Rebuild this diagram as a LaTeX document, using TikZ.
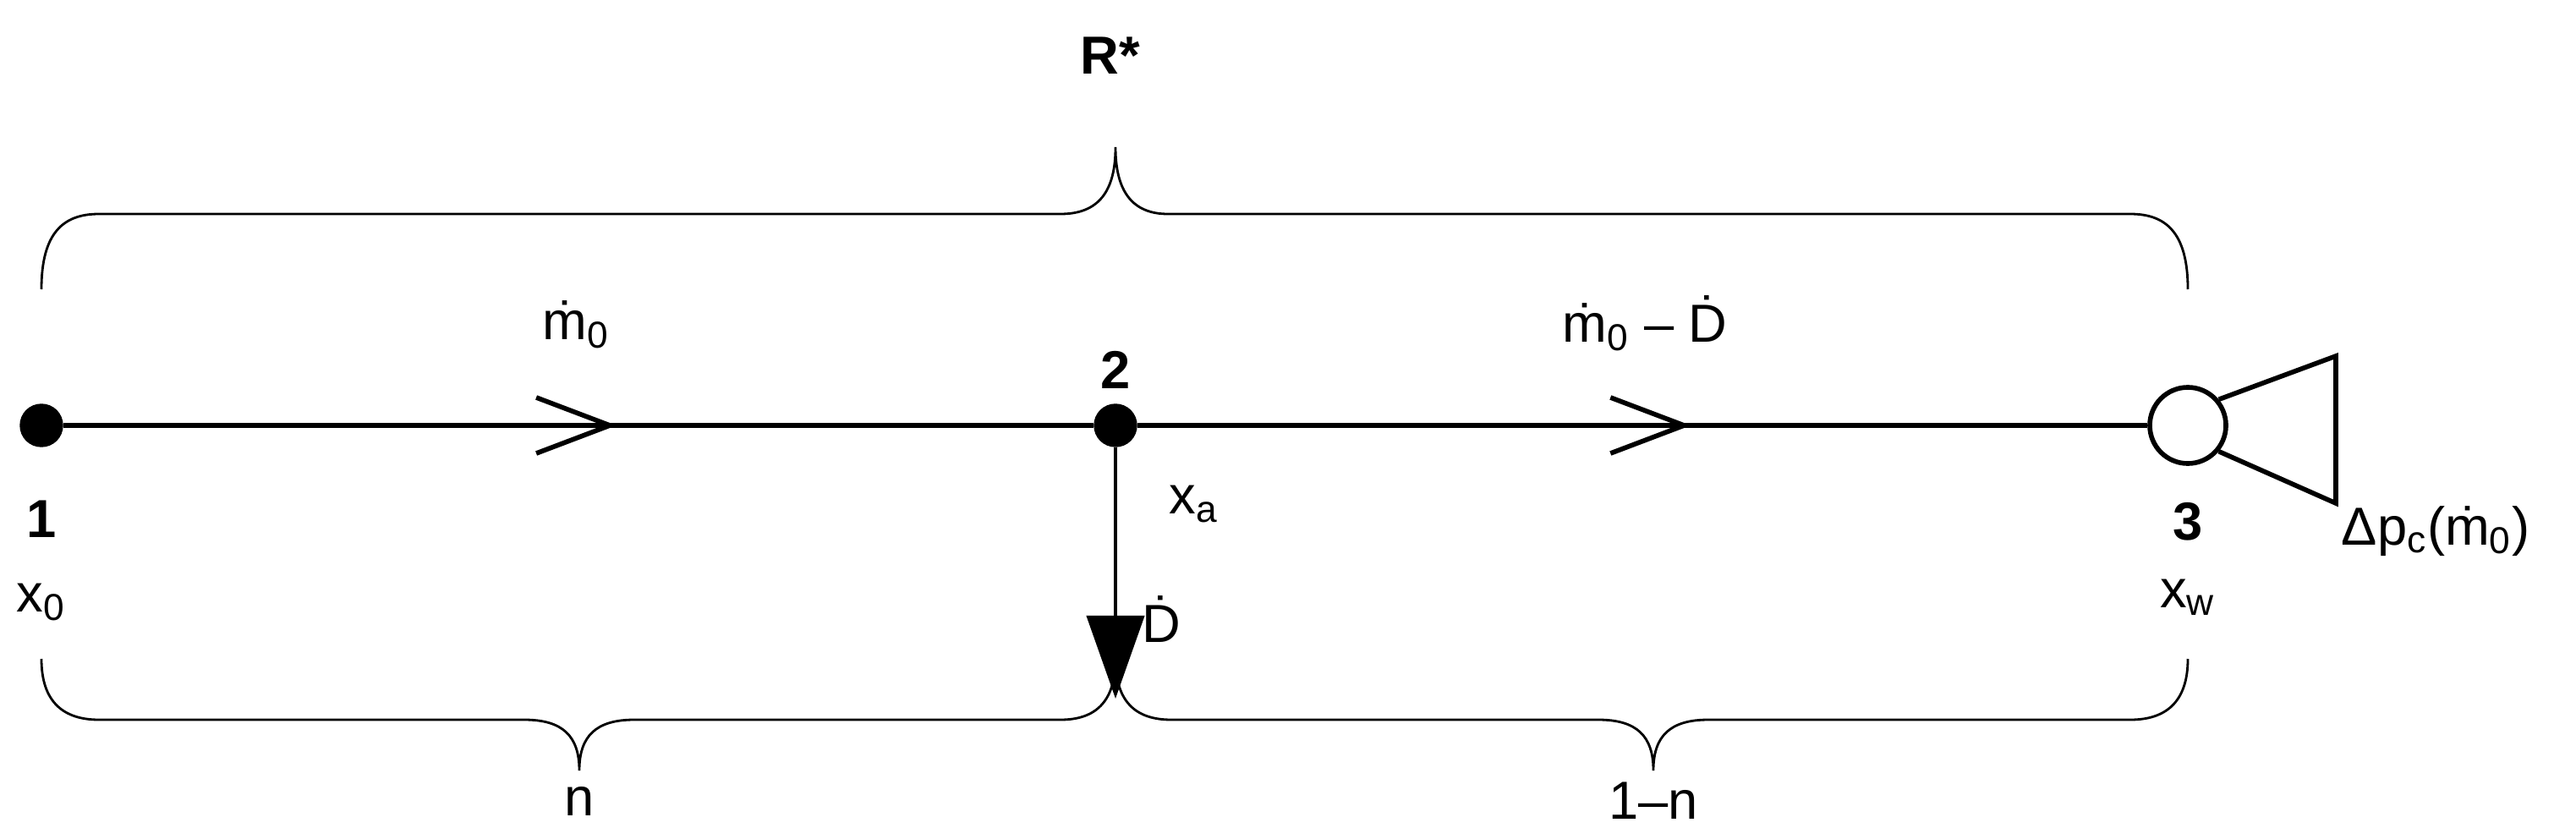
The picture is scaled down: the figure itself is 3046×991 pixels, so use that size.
\documentclass[tikz,border=0pt]{standalone}
\usepackage{fontspec}
\setmainfont{Liberation Sans}
\usetikzlibrary{arrows.meta,decorations.markings}
\begin{document}
\begin{tikzpicture}[x=0.01cm,y=-0.01cm,
  txt/.style={font=\fontsize{18}{21}\selectfont, inner sep=0pt},
  bold/.style={txt,font=\fontsize{18}{21}\selectfont\bfseries},
  dot/.style={circle,fill=black,draw=black,minimum size=0.5cm,inner sep=0pt},
  brace/.style={line width=0.8pt},
  flow/.style={line width=1.6pt},
  midarrow/.style={postaction={decorate},decoration={markings,mark=at position #1 with {\arrow{Straight Barb[length=0.87cm,width=0.66cm,line width=1.6pt]}}}}]
\useasboundingbox (0,0) rectangle (3046,991);
% nodes
\node[dot] (n1) at (49,503) {};
\node[dot] (n2) at (1319,503) {};
\node[circle,draw=black,line width=1.6pt,minimum size=0.9cm,inner sep=0pt] (n3) at (2587,503) {};
\coordinate (dtip) at (1319,826);
% connectors
\draw[flow,midarrow=0.537] (n1) -- (n2);
\draw[flow,midarrow=0.548] (n2) -- (n3);
\draw[line width=1.2pt,-{Triangle[length=0.98cm,width=0.68cm]}] (n2) -- (dtip);
% valve triangle
\draw[line width=1.6pt] (n3.40) -- (2762,421) -- (2762,595) -- (n3.-40);
% top brace
\draw[brace] (49,342) .. controls (49,275) and (75,253) .. (117,253) -- (1254,253)
  .. controls (1300,253) and (1319,225) .. (1319,174)
  .. controls (1319,225) and (1338,253) .. (1381,253) -- (2519,253)
  .. controls (2561,253) and (2587,275) .. (2587,342);
% bottom braces
\draw[brace] (49,779) .. controls (49,830) and (75,851) .. (117,851) -- (620,851)
  .. controls (665,851) and (685,870) .. (685,911)
  .. controls (685,870) and (705,851) .. (750,851) -- (1254,851)
  .. controls (1295,851) and (1319,830) .. (1319,779);
\draw[brace] (1319,779) .. controls (1319,830) and (1343,851) .. (1385,851) -- (1890,851)
  .. controls (1935,851) and (1955,870) .. (1955,911)
  .. controls (1955,870) and (1975,851) .. (2020,851) -- (2519,851)
  .. controls (2561,851) and (2587,830) .. (2587,779);
% labels
\node[bold] (lR) at (1313,66) {R*};
\node[bold] (l1) at (49,614) {1};
\node[bold] (l2) at (1319,437) {2};
\node[bold] (l3) at (2587,617) {3};
\node[txt] (lx0) at (49,712) {x\textsubscript{0}};
\node[txt] (lxa) at (1412,596) {x\textsubscript{a}};
\node[txt] (lxw) at (2587,706) {x\textsubscript{w}};
\node[txt] (lm0) at (681,384) {\.m\textsubscript{0}};
\node[txt] (lmd) at (1945,382) {\.m\textsubscript{0} -- \.D};
\node[txt] (lD) at (1373,732) {\.D};
\node[txt,anchor=west] (ldp) at (2768,628) {Δp\textsubscript{c}(\.m\textsubscript{0})};
\node[txt] (ln) at (685,947) {n};
\node[txt] (l1n) at (1955,947) {1--n};
\end{tikzpicture}
\end{document}
